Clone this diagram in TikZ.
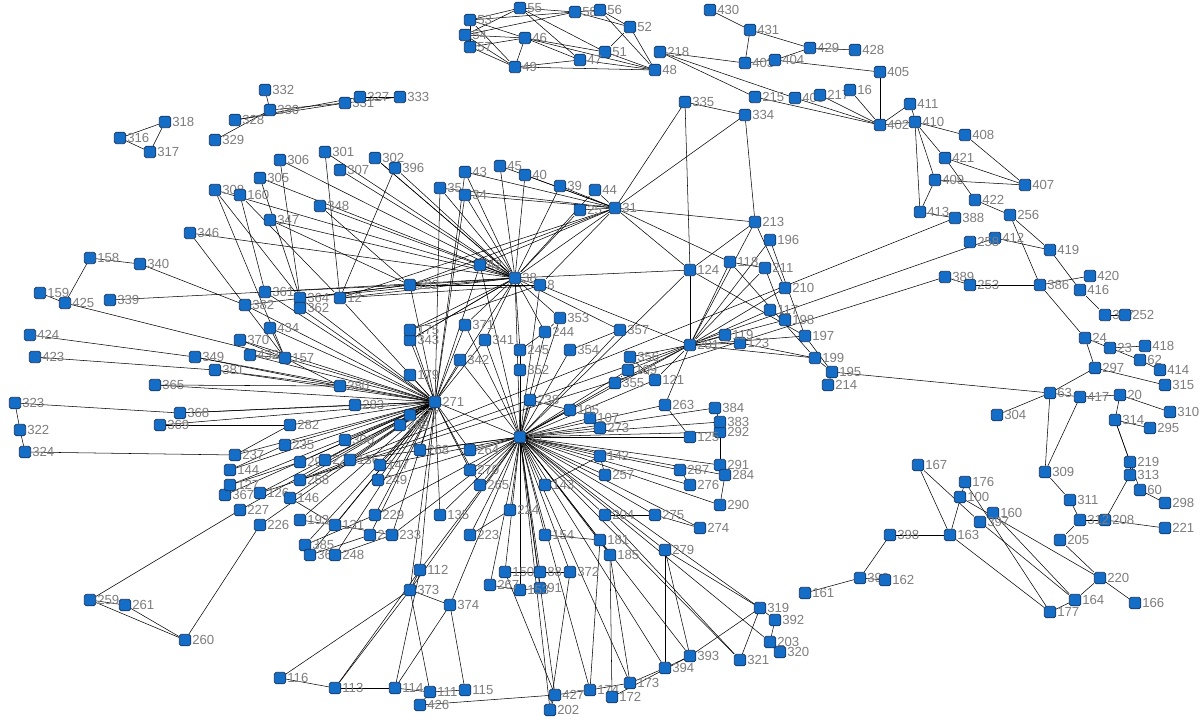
\documentclass[tikz,border=0pt]{standalone}
\usepackage{fontspec}
\setmainfont{Liberation Sans}
\definecolor{nodeblue}{RGB}{20,110,200}
\definecolor{nodeedge}{RGB}{20,50,90}
\definecolor{lblgray}{RGB}{125,125,125}
\pgfdeclarelayer{bg}
\pgfsetlayers{bg,main}
\tikzset{
 box/.style={draw=nodeedge,fill=nodeblue,rounded corners=1pt,minimum size=0.23cm,inner sep=0pt,line width=0.4pt},
 lbl/.style={text=lblgray,font=\fontsize{7.5}{8}\selectfont,inner sep=0.5pt},
 lnk/.style={draw=black,line width=0.3pt}
}
\begin{document}
\begin{tikzpicture}[x=0.02cm,y=-0.02cm]
\useasboundingbox (0,0) rectangle (1200,726);
\foreach \i/\l/\x/\y in {
53/53/470/20,55/55/520/8,58/58/575/12,56/56/600/10,52/52/630/27,54/54/465/35,57/57/470/47,46/46/525/38,51/51/605/52,47/47/580/60,49/49/515/67,48/48/655/70,
218/218/660/52,430/430/710/10,431/431/750/30,429/429/810/48,428/428/855/50,403/403/745/63,404/404/775/60,405/405/880/72,215/215/755/97,400/400/795/98,217/217/820/95,16/16/850/90,402/402/880/125,411/411/910/104,410/410/915/122,408/408/965/135,421/421/945/158,407/407/1025/185,409/409/935/180,422/422/975/200,256/256/1010/215,413/413/920/212,388/388/955/218,412/412/995/238,258/258/970/242,419/419/1050/250,389/389/945/277,253/253/970/285,386/386/1040/285,420/420/1090/276,416/416/1080/290,387/387/1105/315,252/252/1125/315,24/24/1085/338,23/23/1110/348,418/418/1145/346,62/62/1140/360,414/414/1160/370,297/297/1095/368,315/315/1165/385,63/63/1050/393,417/417/1080/397,20/20/1120/395,310/310/1170/412,314/314/1115/420,295/295/1150/428,219/219/1130/462,313/313/1130/475,309/309/1045/472,311/311/1070/500,60/60/1140/490,298/298/1165/503,208/208/1105/520,221/221/1165/528,312/312/1080/520,205/205/1060/540,220/220/1100/578,166/166/1135/603,164/164/1075/600,177/177/1050/612,
167/167/918/465,176/176/965/482,100/100/960/497,160/160/993/513,397/397/980/522,163/163/950/535,398/398/890/535,399/399/860/578,162/162/885/580,161/161/805/593,304/304/997/415,195/195/832/372,214/214/828/385,
213/213/755/222,196/196/770/240,211/211/765/268,210/210/785/288,117/117/770/310,198/198/785/320,197/197/805/336,199/199/815/358,124/124/690/270,118/118/730/262,201/201/690/345,123/123/740/343,119/119/725/335,121/121/655/380,356/356/630/357,335/335/685/102,334/334/745/115,31/31/615/208,
316/316/120/138,318/318/165/122,317/317/150/152,332/332/265/90,330/330/270/110,328/328/235/120,329/329/215/140,331/331/345/103,333/333/400/97,327/327/360/97,301/301/325/152,302/302/375/158,396/396/395/168,306/306/280/160,305/305/260/178,307/307/340/170,308/308/215/190,160b/160/240/195,347/347/270/220,348/348/320/206,346/346/190/233,158/158/90/258,340/340/140/264,339/339/110/300,159/159/40/293,425/425/65/303,424/424/30/335,423/423/35/357,
259/259/90/600,261/261/125/605,260/260/185/640,116/116/280/678,113/113/335/688,114/114/395/688,111/111/430/692,115/115/465/690,426/426/420/705,427/427/555/695,202/202/550/710,174/174/590/690,172/172/612/697,173/173/630/683,394/394/665/668,393/393/690/656,319/319/760/608,392/392/775/620,203/203/770/642,320/320/780/652,321/321/740/660,279/279/665/550,
323/323/15/403,322/322/20/430,324/324/25/452,
43/43/465/172,45/45/500/166,40/40/525/175,39/39/560/186,44/44/595/190,35/35/440/188,34/34/465/195,25/25/580/210,38/38/515/278,8/8/540/285,42/42/480/265,102/102/410/285,271/271/435/402,95/95/520/437,157/157/285/358,380/380/340/386,12/12/340/298,
283/283/355/405,377/377/410/415,269/269/400/425,300/300/345/440,282/282/290/425,235/235/285/445,290/290/300/462,228/228/325/460,268/268/420/450,264/264/470/450,270/270/470/470,265/265/480/485,249/249/378/480,229/229/375/515,230/230/370/535,233/233/392/535,131/131/335/525,135/135/440/515,224/224/510/510,223/223/470/535,154/154/545/535,181/181/600/540,185/185/610/555,204/204/605/515,275/275/655/515,274/274/700/528,276/276/690/485,287/287/680/470,290b/290/720/505,291/291/720/465,284/284/725/475,292/292/720/432,383/383/720/422,384/384/715/408,263/263/665/405,273/273/600/428,125/125/690/437,107/107/590/418,105/105/570/410,238/238/530/400,143/143/545/485,142/142/600/456,257/257/605/475,355/355/615/383,109/109/628/370,352/352/520/370,245/245/520/350,244/244/545/332,353/353/560/318,354/354/570/350,357/357/620/330,343/343/410/340,341/341/485/340,342/342/460/360,371/371/465/325,175/175/410/330,179/179/410/375,364/364/300/298,361/361/265/292,362/362/300/308,382/382/245/305,434/434/270/328,370/370/240/340,432/432/250/355,381/381/215/370,349/349/195/357,365/365/155/385,368/368/180/413,369/369/160/425,367/367/225/495,227/227/240/510,226/226/260/525,237/237/235/455,144/144/230/470,127/127/230/485,126/126/260/493,146/146/290/498,193/193/300/520,385/385/305/545,366/366/310/555,248/248/335/555,112/112/420/570,373/373/410/590,374/374/450/605,150/150/505/572,88/88/540/572,372/372/570/572,91/91/540/588,153/153/520/590,267/267/490/585,136/136/350/460,147/147/380/465,258/258/300/480}
 {\node[box,label={[lbl]right:\l}] (n\i) at (\x,\y) {};}
\begin{pgfonlayer}{bg}
\foreach \t in {380,283,377,269,300,282,235,290,228,268,264,270,265,249,229,230,233,131,135,343,341,342,371,175,179,157,364,361,362,382,434,370,432,381,349,365,368,369,237,144,127,126,146,193,385,366,248,112,373,102,42,38,12,35,34,43,136,147,258,367,227,226}
 \draw[lnk] (n271)--(n\t);
\foreach \t in {238,105,107,273,125,263,383,384,292,291,284,287,276,290b,274,275,204,181,185,154,224,223,143,142,257,355,109,352,245,244,353,354,357,121,201,124,88,150,372,91,153,267,374,264,270,265,135,8,38,427,202,174,173,394,393,319,279,321,203,271,42,341,342,371,268,249,229,233,136,147,112,373}
 \draw[lnk] (n95)--(n\t);
\foreach \t in {43,45,40,39,44,35,34,25,31,42,102,8,12,364,361,301,302,306,305,307,308,348,347,346,396,343,341,175,371,245,244,353,357,124}
 \draw[lnk] (n38)--(n\t);
\foreach \t in {43,45,40,39,44,35,34,25,335,213,118,124,334,42,8,102,12}
 \draw[lnk] (n31)--(n\t);
\foreach \t in {213,196,211,210,117,198,197,199,118,119,123,124,121,356,8,355,109,263}
 \draw[lnk] (n201)--(n\t);
\foreach \a/\b in {195/214,195/63,195/199,195/197,304/63,335/334,334/213,335/124,124/213,118/211,118/199,213/210,196/197,211/198,124/197,123/199,
53/55,53/46,53/49,53/57,54/46,54/58,54/49,55/58,55/51,55/47,58/56,58/52,56/52,56/48,52/51,52/48,46/51,46/47,46/49,46/48,57/49,51/48,47/48,49/48,49/47,54/55,57/46,53/58,
218/403,218/215,218/400,430/431,431/429,431/403,404/405,400/402,215/402,217/402,16/402,405/402,428/429,429/404,403/404,402/411,402/410,410/408,410/421,411/409,408/407,409/407,421/422,409/413,422/256,413/388,388/258,256/419,412/419,258/389,389/253,253/386,386/420,416/387,419/416,386/24,24/23,24/297,387/252,23/418,23/62,62/414,297/315,297/63,63/417,417/20,20/310,20/314,314/295,314/219,219/313,309/311,311/312,312/208,60/298,208/221,312/205,205/220,220/166,220/164,164/177,63/309,314/60,313/208,417/309,410/413,421/407,412/258,256/386,
167/397,176/177,100/220,397/164,163/177,160/164,167/163,176/163,163/398,398/399,399/162,399/161,
316/318,318/317,316/317,332/330,330/331,328/331,329/330,331/333,327/333,328/327,
259/261,261/260,259/260,259/227,260/226,116/113,113/114,114/111,111/115,426/111,427/202,427/174,174/173,173/394,394/393,393/319,319/392,392/203,203/320,321/319,426/427,172/393,
116/373,113/373,114/112,115/374,111/373,427/150,202/372,174/181,173/185,394/279,393/279,319/279,321/204,172/185,113/112,114/374,
323/322,322/324,323/368,324/237,158/340,158/425,159/425,425/157,424/349,423/381,339/361,340/382,346/157,308/157,160b/361,305/364,306/364,301/12,302/38,396/12,347/102,348/102,157/380,157/434,157/370,308/364,160b/12,
102/8,12/8,102/42,364/102,361/102,382/102,343/38,175/8,365/380,368/283,369/282,381/380,349/380,432/157,282/237,235/144,290/127,258/126,146/131,193/131,385/229,366/230,248/233,131/233,112/373,373/374,267/153,150/88,88/372,91/153,224/223,154/181,181/185,204/275,275/274,276/287,290b/284,291/292,383/384,263/125,273/107,105/238,143/142,142/257,355/109,352/245,245/244,244/353,354/357,356/121}
 \draw[lnk] (n\a)--(n\b);
\end{pgfonlayer}
\end{tikzpicture}
\end{document}
